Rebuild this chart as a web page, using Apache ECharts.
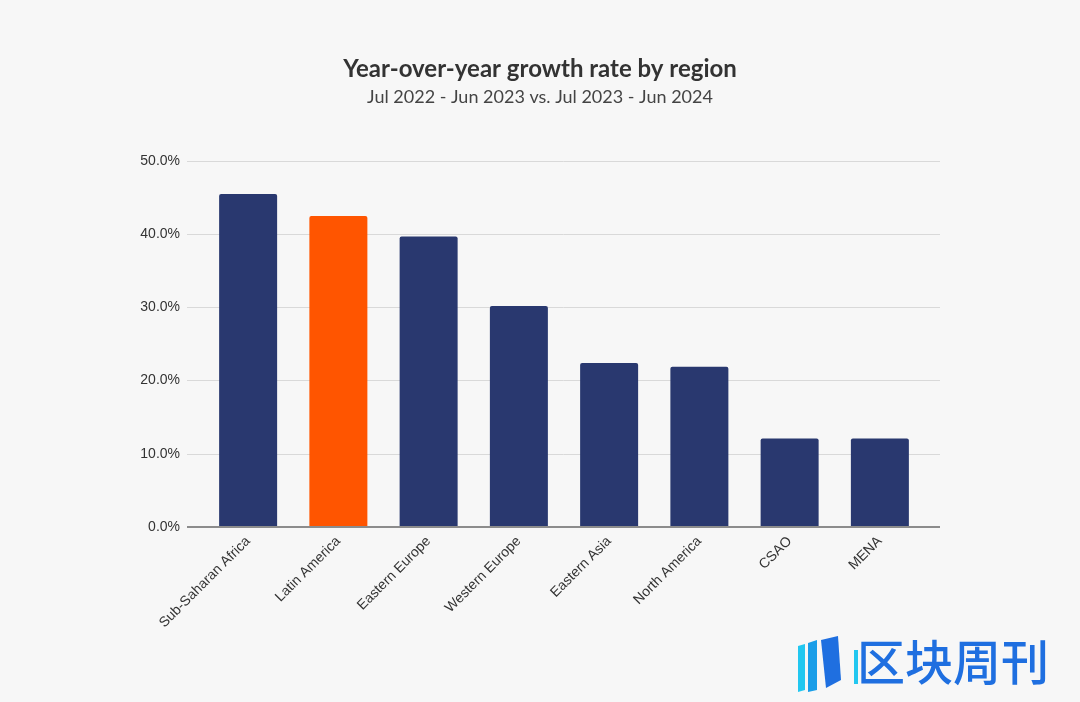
<!DOCTYPE html>
<html><head><meta charset="utf-8">
<script src="https://cdn.jsdelivr.net/npm/echarts@6/dist/echarts.min.js"></script>
<style>html,body{margin:0;padding:0;background:#f7f7f7;}#c{width:1080px;height:702px;}</style>
</head><body><div id="c"></div>
<script>
var categories = ['Sub-Saharan Africa','Latin America','Eastern Europe','Western Europe','Eastern Asia','North America','CSAO','MENA'];
var growth = [45.5, 42.5, 39.7, 30.2, 22.4, 21.9, 12.1, 12.1];
var highlightIndex = 1;
var yTicks = [0, 10, 20, 30, 40, 50];

var chart = echarts.init(document.getElementById('c'));
var navy = '#29386f', orange = '#ff5500';
chart.setOption({
  backgroundColor: '#f7f7f7',
  animation: false,
  title: {
    text: 'Year-over-year growth rate by region',
    subtext: 'Jul 2022 - Jun 2023 vs. Jul 2023 - Jun 2024',
    left: 'center', top: 52, itemGap: 7,
    textStyle: {fontFamily: 'Lato', fontWeight: 'bold', fontSize: 24, color: '#333'},
    subtextStyle: {fontFamily: 'Lato', fontSize: 18, color: '#444'}
  },
  grid: [
    {left: 203, right: 155, top: 161, bottom: 175},
    {left: 187, right: 140, top: 161, bottom: 175}
  ],
  xAxis: [
    {type: 'category', gridIndex: 0, data: categories,
     axisLine: {show: false}, axisTick: {show: false},
     axisLabel: {rotate: 45, interval: 0, margin: 12, fontFamily: 'Liberation Sans', fontSize: 14, color: '#333'}},
    {type: 'value', gridIndex: 1, show: false, min: 0, max: 1}
  ],
  yAxis: [
    {type: 'value', gridIndex: 0, min: 0, max: 50, interval: 10, show: false},
    {type: 'value', gridIndex: 1, min: yTicks[0], max: yTicks[yTicks.length-1], interval: 10,
     axisLine: {show: false}, axisTick: {show: false},
     splitLine: {lineStyle: {color: '#d9d9d9', width: 1}},
     axisLabel: {formatter: function(v){return v.toFixed(1)+'%';}, margin: 7, fontFamily: 'Liberation Sans', fontSize: 14, color: '#333'}}
  ],
  series: [
    {type: 'bar', xAxisIndex: 0, yAxisIndex: 0, barWidth: 58,
     data: growth.map(function(v,i){return {value: v, itemStyle: {color: i===highlightIndex?orange:navy}};}),
     itemStyle: {borderRadius: [2,2,0,0]}, z: 3},
    {type: 'line', xAxisIndex: 1, yAxisIndex: 1, data: [[0,0],[1,0]], symbol: 'none',
     lineStyle: {color: '#8c8c8c', width: 2}, z: 4, silent: true}
  ],
  graphic: [
    {type: 'polygon', shape: {points: [[798,646],[805,644],[805,690],[798,692]]}, style: {fill: '#22c7f0'}},
    {type: 'polygon', shape: {points: [[808,643],[817,640],[817,690],[808,692]]}, style: {fill: '#1a9ee8'}},
    {type: 'polygon', shape: {points: [[821,640],[838,636],[841,680],[826,688]]}, style: {fill: '#1f6fe0'}},
    {type: 'rect', shape: {x: 854, y: 650, width: 4, height: 34}, style: {fill: '#22c7f0'}},
    {type: 'text', left: 857, top: 638, style: {text: '区块周刊', font: '500 48px "Noto Sans CJK SC"', fill: '#1f6fe0'}}
  ]
});
</script></body></html>
